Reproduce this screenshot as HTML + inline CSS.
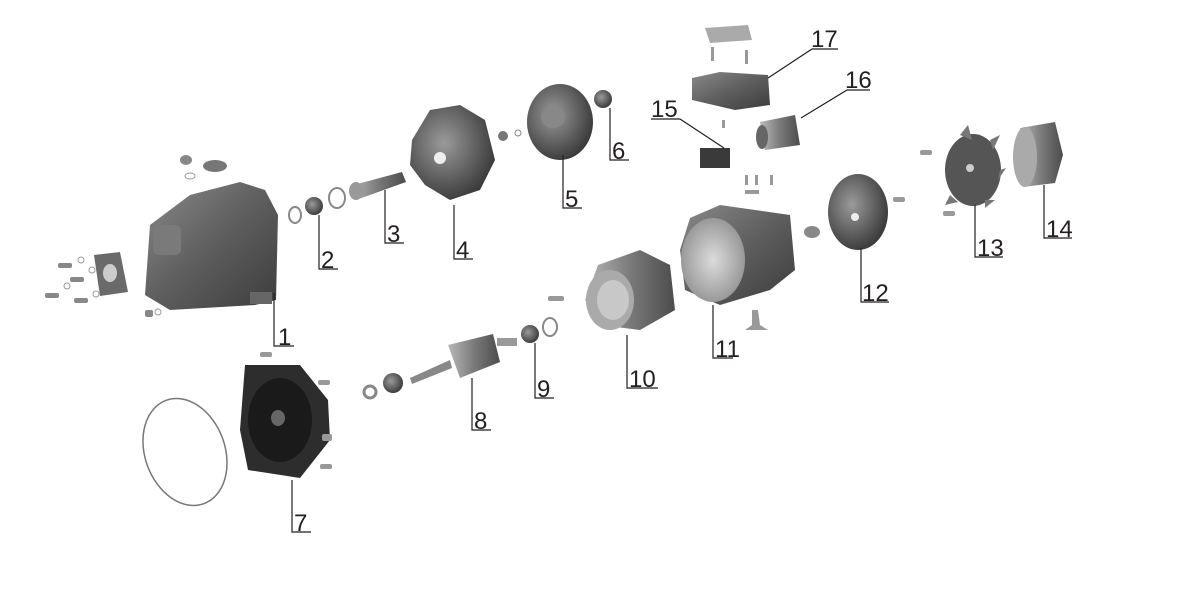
<!DOCTYPE html>
<html><head><meta charset="utf-8"><style>
html,body{margin:0;padding:0;background:#fff;width:1181px;height:589px;overflow:hidden}
svg{display:block}
text{font-family:"Liberation Sans",sans-serif;font-size:24px;fill:#231f20}
</style></head><body>
<svg width="1181" height="589" viewBox="0 0 1181 589" xmlns="http://www.w3.org/2000/svg">
<defs>
<linearGradient id="g1" x1="0" y1="0" x2="1" y2="1"><stop offset="0" stop-color="#8a8a8a"/><stop offset=".5" stop-color="#5e5e5e"/><stop offset="1" stop-color="#3c3c3c"/></linearGradient>
<linearGradient id="g2" x1="0" y1="0" x2="1" y2="0"><stop offset="0" stop-color="#b9b9b9"/><stop offset=".5" stop-color="#7a7a7a"/><stop offset="1" stop-color="#4c4c4c"/></linearGradient>
<radialGradient id="g3" cx=".4" cy=".4" r=".7"><stop offset="0" stop-color="#9a9a9a"/><stop offset="1" stop-color="#2f2f2f"/></radialGradient>
<radialGradient id="g4" cx=".5" cy=".5" r=".6"><stop offset="0" stop-color="#dcdcdc"/><stop offset="1" stop-color="#8c8c8c"/></radialGradient>
</defs>
<g stroke="none">
<path d="M150,225 L190,195 L240,182 L265,190 L278,215 L276,300 L255,305 L170,310 L145,295 Z" fill="url(#g1)"/>
<rect x="153" y="225" width="28" height="30" rx="6" fill="#7a7a7a"/>
<ellipse cx="186" cy="160" rx="6" ry="5" fill="#888"/>
<ellipse cx="215" cy="166" rx="12" ry="6" fill="#777"/>
<ellipse cx="190" cy="176" rx="5" ry="3" fill="none" stroke="#999"/>
<rect x="250" y="292" width="22" height="12" fill="#666"/>
<path d="M94,255 L120,252 L128,292 L100,296 Z" fill="#6a6a6a"/>
<ellipse cx="110" cy="273" rx="7" ry="9" fill="#ccc"/>
<g fill="#888"><rect x="58" y="263" width="14" height="5" rx="2"/><rect x="70" y="277" width="14" height="5" rx="2"/><rect x="45" y="293" width="14" height="5" rx="2"/><rect x="74" y="298" width="14" height="5" rx="2"/><rect x="145" y="310" width="8" height="7" rx="2"/></g>
<g fill="none" stroke="#999"><circle cx="81" cy="260" r="3"/><circle cx="92" cy="270" r="3"/><circle cx="67" cy="286" r="3"/><circle cx="96" cy="294" r="3"/><circle cx="158" cy="312" r="3"/></g>
<ellipse cx="295" cy="215" rx="6" ry="8" fill="none" stroke="#888" stroke-width="2"/>
<ellipse cx="314" cy="206" rx="9" ry="9" fill="url(#g3)"/>
<ellipse cx="337" cy="198" rx="8" ry="10" fill="none" stroke="#888" stroke-width="2"/>
<path d="M350,186 L402,172 L406,182 L356,200 Z" fill="url(#g2)"/>
<ellipse cx="356" cy="191" rx="7" ry="9" fill="#999"/>
<path d="M412,140 L430,110 L460,105 L485,120 L495,160 L480,190 L450,200 L425,185 L410,165 Z" fill="url(#g3)"/>
<circle cx="440" cy="158" r="6" fill="#eee"/>
<circle cx="503" cy="136" r="5" fill="#777"/><circle cx="518" cy="133" r="3" fill="none" stroke="#888"/>
<ellipse cx="560" cy="122" rx="33" ry="38" fill="url(#g3)"/>
<ellipse cx="553" cy="117" rx="12" ry="11" fill="#888"/>
<circle cx="603" cy="99" r="9" fill="url(#g3)"/>
<ellipse cx="185" cy="452" rx="40" ry="55" transform="rotate(-20 185 452)" fill="none" stroke="#777" stroke-width="1.5"/>
<path d="M245,365 L300,365 L328,400 L330,440 L300,478 L248,470 L240,430 Z" fill="#2d2d2d"/>
<ellipse cx="280" cy="420" rx="32" ry="42" fill="#1a1a1a"/>
<ellipse cx="278" cy="418" rx="7" ry="8" fill="#666"/>
<g fill="#999"><rect x="260" y="352" width="12" height="5" rx="2"/><rect x="318" y="380" width="12" height="5" rx="2"/><rect x="322" y="434" width="10" height="7" rx="2"/><rect x="320" y="464" width="12" height="5" rx="2"/></g>
<ellipse cx="370" cy="392" rx="6" ry="6" fill="none" stroke="#888" stroke-width="3"/>
<ellipse cx="393" cy="383" rx="10" ry="10" fill="url(#g3)"/>
<path d="M410,378 L450,360 L452,368 L412,384 Z" fill="#888"/>
<path d="M448,345 L493,334 L500,362 L460,378 Z" fill="url(#g2)"/>
<rect x="497" y="338" width="20" height="8" fill="#999"/>
<ellipse cx="530" cy="334" rx="9" ry="9" fill="url(#g3)"/>
<ellipse cx="550" cy="327" rx="7" ry="9" fill="none" stroke="#888" stroke-width="2"/>
<rect x="548" y="296" width="16" height="5" rx="2" fill="#999"/>
<path d="M598,265 L640,250 L670,265 L675,310 L640,330 L600,325 L585,300 Z" fill="url(#g2)"/>
<ellipse cx="610" cy="300" rx="24" ry="30" fill="#aaa"/>
<ellipse cx="613" cy="300" rx="16" ry="20" fill="#c8c8c8"/>
<path d="M690,218 L720,205 L790,215 L795,270 L770,290 L720,305 L685,290 L680,250 Z" fill="url(#g1)"/>
<ellipse cx="713" cy="260" rx="32" ry="42" fill="url(#g4)"/>
<ellipse cx="812" cy="232" rx="8" ry="6" fill="#888"/>
<path d="M752,310 L758,310 L760,325 L768,330 L745,330 L752,325 Z" fill="#999"/>
<ellipse cx="858" cy="212" rx="30" ry="38" fill="url(#g3)"/>
<circle cx="855" cy="217" r="4" fill="#eee"/>
<rect x="893" y="197" width="12" height="5" rx="2" fill="#999"/>
<ellipse cx="973" cy="170" rx="28" ry="36" fill="#555"/>
<g fill="#777"><path d="M960,135 L968,125 L972,140 Z"/><path d="M990,140 L1000,135 L993,150 Z"/><path d="M1000,170 L1006,168 L998,180 Z"/><path d="M985,200 L995,200 L985,208 Z"/><path d="M950,195 L945,205 L958,202 Z"/></g>
<circle cx="970" cy="168" r="4" fill="#ccc"/>
<rect x="920" y="150" width="12" height="5" rx="2" fill="#999"/><rect x="943" y="211" width="12" height="5" rx="2" fill="#999"/>
<path d="M1020,128 L1055,122 L1063,155 L1055,183 L1023,187 Z" fill="url(#g2)"/>
<ellipse cx="1025" cy="157" rx="12" ry="30" fill="#aaa"/>
<path d="M705,28 L748,25 L752,40 L710,43 Z" fill="#aaa"/>
<rect x="711" y="47" width="3" height="14" fill="#999"/><rect x="745" y="50" width="3" height="14" fill="#999"/>
<path d="M692,78 L720,72 L768,75 L770,105 L735,110 L692,100 Z" fill="url(#g1)"/>
<path d="M760,122 L795,115 L800,145 L765,150 Z" fill="url(#g2)"/>
<ellipse cx="762" cy="137" rx="6" ry="12" fill="#666"/>
<rect x="700" y="148" width="30" height="20" fill="#3a3a3a"/>
<g fill="#999"><rect x="722" y="120" width="3" height="8"/><rect x="745" y="175" width="3" height="10"/><rect x="755" y="175" width="3" height="10"/><rect x="745" y="190" width="14" height="4"/><rect x="770" y="175" width="3" height="10"/></g>
</g>
<g stroke="#231f20" stroke-width="1.2" fill="none">
<polyline points="274,293 274,346 294,346"/>
<polyline points="319,215 319,269 338,269"/>
<polyline points="385,190 385,243 404,243"/>
<polyline points="454,205 454,259 473,259"/>
<polyline points="563,155 563,208 582,208"/>
<polyline points="610,108 610,160 629,160"/>
<polyline points="292,480 292,532 311,532"/>
<polyline points="472,378 472,430 491,430"/>
<polyline points="535,343 535,398 554,398"/>
<polyline points="627,335 627,388 658,388"/>
<polyline points="713,305 713,358 733,358"/>
<polyline points="861,248 861,302 889,302"/>
<polyline points="975,205 975,257 1003,257"/>
<polyline points="1044,185 1044,238 1072,238"/>
<polyline points="651,119 680,119 724,148"/>
<polyline points="870,90 847,90 801,118"/>
<polyline points="838,49 812,49 768,78"/>
</g>
<text x="278" y="345">1</text>
<text x="321" y="268">2</text>
<text x="387" y="242">3</text>
<text x="456" y="258">4</text>
<text x="565" y="207">5</text>
<text x="612" y="159">6</text>
<text x="294" y="531">7</text>
<text x="474" y="429">8</text>
<text x="537" y="397">9</text>
<text x="629" y="387">10</text>
<text x="715" y="357">11</text>
<text x="862" y="301">12</text>
<text x="977" y="256">13</text>
<text x="1046" y="237">14</text>
<text x="651" y="117">15</text>
<text x="845" y="88">16</text>
<text x="811" y="47">17</text>
</svg>
</body></html>
